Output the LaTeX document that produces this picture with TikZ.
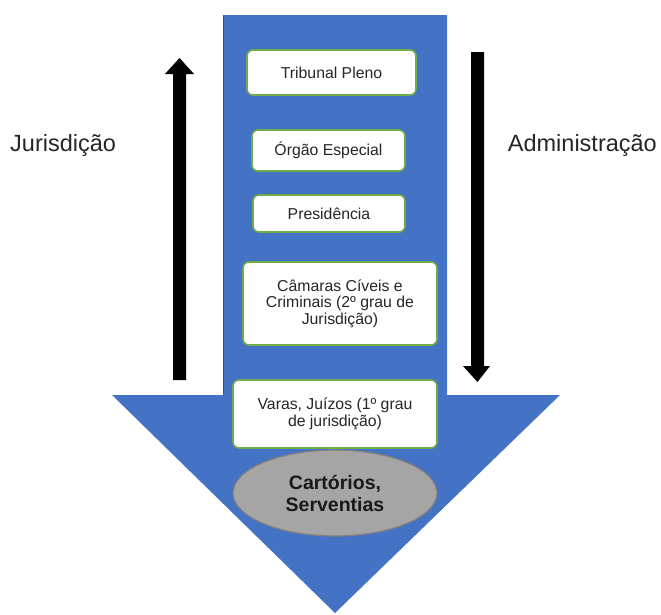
\documentclass[tikz,border=0pt]{standalone}
\usepackage{fontspec}
\setmainfont{Liberation Sans}
\usetikzlibrary{shapes.geometric}
\definecolor{bigblue}{HTML}{4472C4}
\definecolor{boxgreen}{HTML}{70AD47}
\definecolor{ellfill}{HTML}{A5A5A5}
\definecolor{ellline}{HTML}{7F7F7F}
\tikzset{
  levelbox/.style={draw=boxgreen, line width=1.6pt, fill=white, rounded corners=6pt,
    align=center, inner sep=0pt, font=\fontsize{15.8}{16.5}\selectfont, text=black!85},
  sidelabel/.style={font=\fontsize{23.5}{26}\selectfont, text=black!85, inner sep=0pt},
  blackarrow/.style={fill=black, draw=none},
}
\begin{document}
\begin{tikzpicture}[x=1pt,y=-1pt]
\useasboundingbox (0,0) rectangle (661,614);
% big blue arrow
\fill[bigblue] (223,15) -- (447,15) -- (447,395) -- (560,395) -- (335,613) -- (112,395) -- (223,395) -- cycle;
\draw[bigblue!70!black, line width=0.8pt] (223,15) -- (223,395);
% black arrows
\fill[blackarrow] (173,380) -- (173,74) -- (165,74) -- (179.5,58) -- (194,74) -- (186,74) -- (186,380) -- cycle;
\fill[blackarrow] (471,52) -- (471,366) -- (463,366) -- (477.5,382) -- (490,366) -- (484,366) -- (484,52) -- cycle;
% labels
\node[sidelabel, anchor=west] (jur) at (10,145) {Jurisdição};
\node[sidelabel, anchor=east] (adm) at (657,145) {Administração};
% level boxes
\node[levelbox, minimum width=169pt, minimum height=45pt] (tp) at (331.5,72.5) {Tribunal Pleno};
\node[levelbox, minimum width=153pt, minimum height=41pt] (oe) at (328.5,150.5) {Órgão Especial};
\node[levelbox, minimum width=152pt, minimum height=37pt] (pr) at (329,213.5) {Presidência};
\node[levelbox, minimum width=194pt, minimum height=83pt] (cc) at (340,303.5) {Câmaras Cíveis e\\Criminais (2º grau de\\Jurisdição)};
\node[levelbox, minimum width=204pt, minimum height=68pt] (vj) at (335,414) {Varas, Juízos (1º grau\\de jurisdição)};
\node[ellipse, draw=ellline, line width=1.2pt, fill=ellfill, minimum width=204pt, minimum height=86pt,
  inner sep=0pt, align=center, font=\fontsize{19.5}{22}\selectfont\bfseries, text=black!90] (cs) at (335,493) {Cartórios,\\Serventias};
\end{tikzpicture}
\end{document}
